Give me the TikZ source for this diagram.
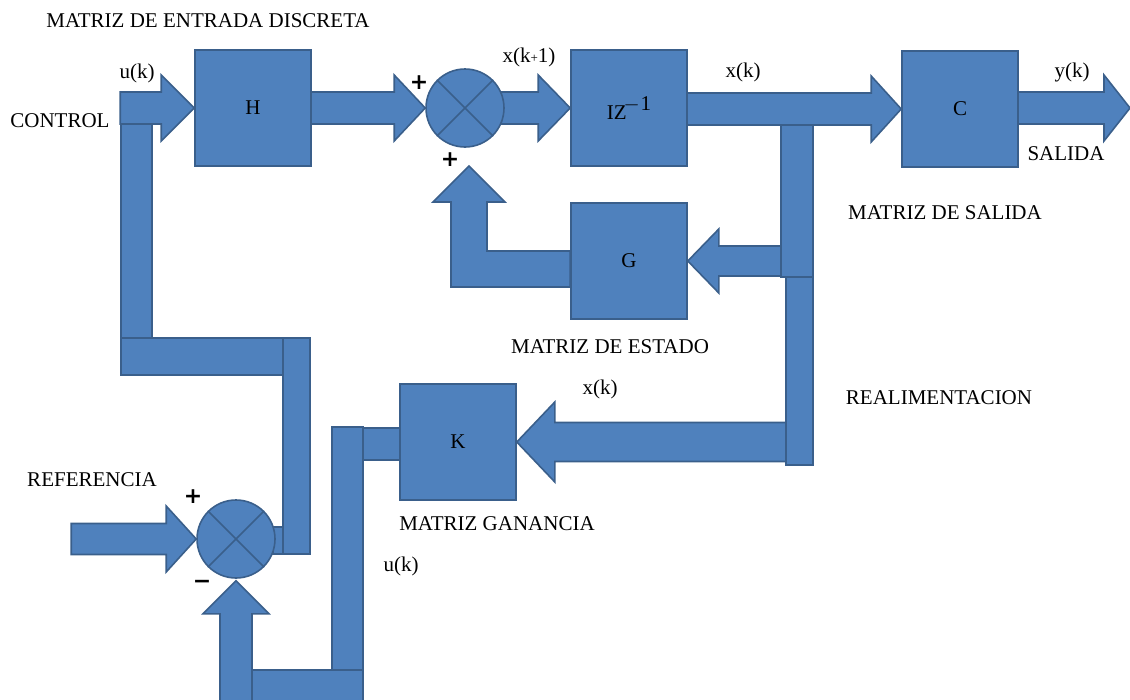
\documentclass[tikz,border=0pt]{standalone}
\usepackage{fontspec}
\setmainfont{Liberation Serif}
\newfontfamily\signfont{DejaVu Sans}
\usetikzlibrary{calc}
\pgfdeclarelayer{background}
\pgfsetlayers{background,main}
\definecolor{blk}{HTML}{4F81BD}
\definecolor{bdr}{HTML}{3A5F8B}
\tikzset{
  bar/.style={fill=blk, draw=bdr, line width=1.6pt},
  blockbox/.style={bar, rectangle, minimum width=116pt, minimum height=116pt, inner sep=0pt, font=\fontsize{21}{24}\selectfont},
  sumnode/.style={bar, circle, minimum size=78pt, inner sep=0pt},
  lbl/.style={font=\fontsize{21}{24}\selectfont, inner sep=0pt},
  sign/.style={font=\signfont\bfseries\fontsize{22}{22}\selectfont, inner sep=0pt}
}
% tip, angle, total length, head length, head half-height, shaft half-height
\newcommand\fatarrow[6]{%
  \filldraw[bar, shift={(#1)}, rotate=#2] (0,0) -- (-#4,-#5) -- (-#4,-#6) -- (-#3,-#6) -- (-#3,#6) -- (-#4,#6) -- (-#4,#5) -- cycle;}
\begin{document}
\begin{tikzpicture}[x=1pt,y=-1pt]
\useasboundingbox (0,0) rectangle (1130,699);
\clip (0,0) rectangle (1130,699);

% blocks and summing junctions
\node[blockbox] (H) at (253,108) {H};
\node[blockbox] (IZ) at (629,108) {IZ\raisebox{9pt}{\kern-3pt\fontsize{21}{24}\selectfont$-$\kern1pt1}};
\node[blockbox] (C) at (960,109) {C};
\node[blockbox] (G) at (629,261) {G};
\node[blockbox] (K) at (458,442) {K};
\node[sumnode] (sT) at (465,108) {};
\node[sumnode] (sB) at (236,539) {};
\draw[draw=bdr, line width=1.6pt] (sT.45) -- (sT.225) (sT.135) -- (sT.315);
\draw[draw=bdr, line width=1.6pt] (sB.45) -- (sB.225) (sB.135) -- (sB.315);

% free ends
\coordinate (yout) at (1130,108);

\begin{pgfonlayer}{background}
% feedback arrows
\fatarrow{G.east}{180}{95}{31}{32}{15}
\fatarrow{K.east}{180}{270}{38}{40}{19.5}
\filldraw[bar] (G.west |- 0,251) -- (487,251) -- (487,202) -- (505,202) -- (469,166) -- (433,202) -- (451,202) -- (451,287) -- (G.west |- 0,287) -- cycle;
% plain bars
\draw[bar] (121,124) rectangle (152,338);
\draw[bar] (121,338) rectangle (283,375);
\draw[bar] (283,338) rectangle (310,554);
\draw[bar] (273,527) rectangle (283,554);
\draw[bar] (781,123) rectangle (813,277);
\draw[bar] (786,277) rectangle (813,465);
\draw[bar] (332,427) rectangle (363,670);
\draw[bar] (252,670) rectangle (363,712);
\draw[bar] (363,428) rectangle (400,460);
% forward arrows
\fatarrow{H.west}{0}{74}{33}{33}{16}
\fatarrow{sT.west}{0}{116}{31}{33}{16}
\fatarrow{IZ.west}{0}{69}{32}{33}{16}
\fatarrow{C.west}{0}{216}{30}{33}{16}
\fatarrow{yout}{0}{112}{26}{33}{16}
\fatarrow{sB.west}{0}{125}{30}{33}{15.5}
\fatarrow{$(sB.south)+(0,2)$}{90}{140}{33}{33}{16}
\end{pgfonlayer}

% labels
\node[lbl] (t1) at (208,21) {MATRIZ DE ENTRADA DISCRETA};
\node[lbl] (uk1) at (137,73) {u(k)};
\node[lbl] (ctrl) at (60,121) {CONTROL};
\node[lbl] (xk1) at (529,57) {x(k{\fontsize{13}{13}\selectfont+}1)};
\node[lbl] (xk2) at (743,72) {x(k)};
\node[lbl] (yk) at (1072,72) {y(k)};
\node[lbl] (sal) at (1066,154) {SALIDA};
\node[lbl] (msal) at (945,213) {MATRIZ DE SALIDA};
\node[lbl] (mest) at (610,347) {MATRIZ DE ESTADO};
\node[lbl] (real) at (939,398) {REALIMENTACION};
\node[lbl] (xk3) at (600,389) {x(k)};
\node[lbl] (mgan) at (497,524) {MATRIZ GANANCIA};
\node[lbl] (ref) at (92,480) {REFERENCIA};
\node[lbl] (uk2) at (401,566) {u(k)};
\node[sign] (p1) at (419,83) {+};
\node[sign] (p2) at (450,160) {+};
\node[sign] (p3) at (193,497) {+};
\node[sign] (m1) at (202,584) {−};
\end{tikzpicture}
\end{document}
